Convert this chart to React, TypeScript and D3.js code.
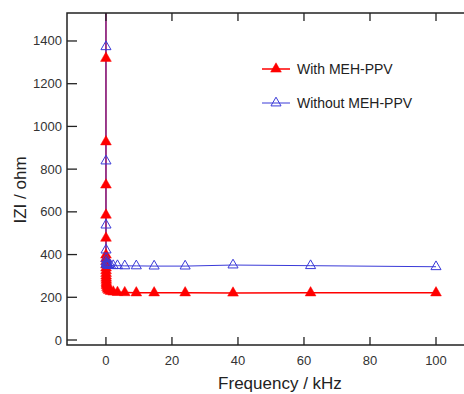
import React from "react";
import * as d3 from "d3";

const freqWith = [100, 62, 38.5, 24, 14.6, 9.2, 5.7, 3.5, 2.2, 1.4, 0.86, 0.53, 0.33, 0.2, 0.15, 0.125, 0.1, 0.077, 0.06, 0.048, 0.038, 0.03, 0.024, 0.018, 0.014, 0.011, 0.007, 0.0043, 0.0027, 0.0016, 0.001, 0.0006];
const zWith = [221, 221, 220, 221, 221, 221, 222, 223, 225, 228, 232, 238, 246, 255, 262, 270, 280, 290, 300, 312, 325, 338, 352, 368, 382, 398, 477, 585, 726, 928, 1319, 1900];

const freqWithout = [100, 62, 38.5, 24, 14.6, 9.2, 5.7, 3.5, 2.2, 1.4, 0.86, 0.53, 0.33, 0.2, 0.125, 0.077, 0.048, 0.03, 0.018, 0.011, 0.007, 0.0043, 0.0027];
const zWithout = [343, 348, 351, 346, 346, 347, 347, 348, 348, 349, 350, 351, 352, 355, 358, 365, 380, 421, 538, 838, 1373, 2000, 2800];

const xTicks = [0, 20, 40, 60, 80, 100];
const yTicks = [0, 200, 400, 600, 800, 1000, 1200, 1400];
const seriesNames = ["With MEH-PPV", "Without MEH-PPV"];

const W = 464, H = 394;
const L = 67, R = 470, T = 13, B = 345;
const font = "'Liberation Sans', Arial, sans-serif";

export default function App() {
  const x = d3.scaleLinear().domain([-11.8, 110.3]).range([L, R]);
  const y = d3.scaleLinear().domain([-23.4, 1531]).range([B, T]);
  const line = d3.line<[number, number]>().x(d => x(d[0])).y(d => y(d[1]));
  const dWith: [number, number][] = freqWith.map((f, i) => [f, zWith[i]]);
  const dWithout: [number, number][] = freqWithout.map((f, i) => [f, zWithout[i]]);
  const triR = d3.symbol().type(d3.symbolTriangle).size(50)() as string;
  const triB = d3.symbol().type(d3.symbolTriangle).size(44)() as string;
  const red = "#ff0000";
  const blue = "#3a3ad8";
  const axisColor = "#222";

  return (
    <svg width={W} height={H} style={{ position: "absolute", left: 0, top: 0, background: "#fff" }}>
      <defs>
        <clipPath id="plotclip">
          <rect x={L} y={T} width={R - L} height={B - T} />
        </clipPath>
      </defs>
      <g clipPath="url(#plotclip)">
        <path d={line(dWith) as string} fill="none" stroke={red} strokeWidth={1.5} />
        <path d={line(dWithout) as string} fill="none" stroke={blue} strokeWidth={1} />
        {dWith.map((d, i) => (
          <path key={"r" + i} d={triR} transform={`translate(${x(d[0])},${y(d[1])})`} fill={red} stroke={red} strokeWidth={0.5} />
        ))}
        {dWithout.map((d, i) => (
          <path key={"b" + i} d={triB} transform={`translate(${x(d[0])},${y(d[1])})`} fill="none" stroke={blue} strokeWidth={1} />
        ))}
      </g>
      <path d={`M${R},${T}H${L}V${B}H${R}`} fill="none" stroke={axisColor} strokeWidth={1.5} />
      {xTicks.map(t => (
        <g key={"xt" + t}>
          <line x1={x(t)} x2={x(t)} y1={B} y2={B - 8} stroke={axisColor} strokeWidth={1.3} />
          <line x1={x(t)} x2={x(t)} y1={T} y2={T + 8} stroke={axisColor} strokeWidth={1.3} />
          <text x={x(t)} y={B + 20} textAnchor="middle" fontFamily={font} fontSize={13} fill="#333">{t}</text>
        </g>
      ))}
      {yTicks.map(t => (
        <g key={"yt" + t}>
          <line x1={L} x2={L + 10} y1={y(t)} y2={y(t)} stroke={axisColor} strokeWidth={1.3} />
          <text x={L - 5} y={y(t) + 4.5} textAnchor="end" fontFamily={font} fontSize={13} fill="#333">{t}</text>
        </g>
      ))}
      <text x={280} y={389} textAnchor="middle" fontFamily={font} fontSize={17} fill="#222">Frequency / kHz</text>
      <text transform={`translate(26,190) rotate(-90)`} textAnchor="middle" fontFamily={font} fontSize={17} fill="#222">IZI / ohm</text>
      <g>
        <line x1={262} x2={290} y1={69} y2={69} stroke={red} strokeWidth={1.5} />
        <path d={triR} transform={`translate(276,69)`} fill={red} stroke={red} strokeWidth={0.5} />
        <text x={297} y={74} fontFamily={font} fontSize={14} fill="#222">{seriesNames[0]}</text>
        <line x1={262} x2={290} y1={103} y2={103} stroke={blue} strokeWidth={1} />
        <path d={triB} transform={`translate(276,103)`} fill="none" stroke={blue} strokeWidth={1} />
        <text x={297} y={108} fontFamily={font} fontSize={14} fill="#222">{seriesNames[1]}</text>
      </g>
    </svg>
  );
}
